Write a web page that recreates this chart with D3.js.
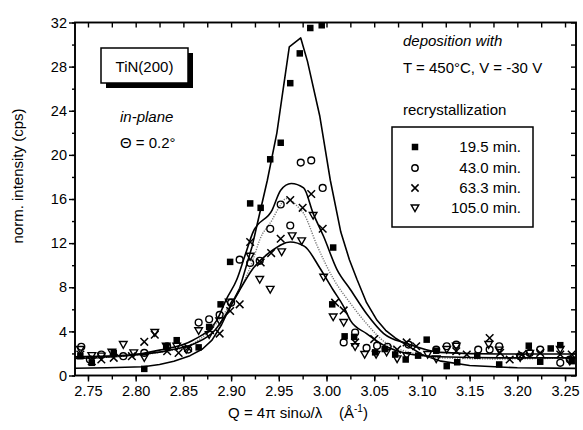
<!DOCTYPE html>
<html>
<head>
<meta charset="utf-8">
<script src="https://cdn.jsdelivr.net/npm/d3@7"></script>
<style>
  html, body { margin: 0; padding: 0; background: #fff; }
  svg { display: block; font-family: "Liberation Sans", Arial, sans-serif; }
</style>
</head>
<body>
<svg id="chart" width="583" height="430"></svg>
<script>
// ---- measured data: TiN(200) in-plane scans after recrystallization ----
// 19.5 min (filled squares)
const q195 = [2.742, 2.754, 2.777, 2.809, 2.832, 2.843, 2.866, 2.877, 2.889, 2.899, 2.920, 2.931, 2.941, 2.952, 2.962, 2.972, 2.983, 2.995, 3.007, 3.006, 3.019, 3.029, 3.051, 3.061, 3.072, 3.083, 3.096, 3.105, 3.115, 3.126, 3.137, 3.158, 3.181, 3.212, 3.224, 3.235, 3.245, 3.257];
const i195 = [1.75, 1.15, 2.05, 0.6, 2.65, 3.2, 2.55, 4.4, 6.45, 10.3, 15.6, 15.2, 19.6, 21.1, 26.5, 29.2, 31.5, 31.75, 11.6, 6.45, 3.55, 3.5, 2.1, 2.4, 1.9, 1.45, 1.8, 3.25, 2.25, 0.85, 1.2, 1.8, 1.0, 2.7, 1.25, 2.45, 2.75, 1.3];
// 43.0 min (open circles)
const q430 = [2.743, 2.752, 2.764, 2.787, 2.809, 2.833, 2.855, 2.866, 2.877, 2.888, 2.900, 2.909, 2.920, 2.930, 2.941, 2.952, 2.962, 2.973, 2.984, 2.996, 3.018, 3.030, 3.042, 3.053, 3.064, 3.086, 3.115, 3.126, 3.136, 3.159, 3.171, 3.181, 3.203, 3.213, 3.224, 3.245, 3.255];
const i430 = [2.6, 1.45, 1.9, 1.75, 2.05, 2.65, 2.35, 4.8, 5.1, 5.5, 6.6, 10.5, 10.2, 10.4, 13.3, 15.5, 13.6, 19.3, 19.5, 17.0, 3.0, 3.9, 2.5, 2.7, 2.6, 2.8, 2.35, 2.65, 2.8, 2.35, 2.35, 2.65, 1.75, 2.05, 2.35, 1.15, 1.45];
// 63.3 min (crosses)
const q633 = [2.742, 2.754, 2.764, 2.777, 2.796, 2.809, 2.820, 2.833, 2.845, 2.855, 2.878, 2.888, 2.899, 2.909, 2.920, 2.931, 2.942, 2.952, 2.962, 2.975, 2.984, 2.996, 3.009, 3.018, 3.030, 3.050, 3.074, 3.084, 3.094, 3.136, 3.147, 3.171, 3.182, 3.192, 3.205, 3.224, 3.245, 3.257];
const i633 = [1.9, 1.3, 1.45, 1.6, 1.75, 3.05, 3.7, 2.2, 2.05, 2.5, 4.1, 3.8, 5.85, 6.45, 12.1, 10.25, 11.1, 12.4, 15.9, 15.2, 16.45, 13.3, 6.6, 5.9, 3.0, 3.3, 2.35, 3.0, 2.65, 2.2, 1.9, 3.4, 2.05, 1.45, 1.9, 2.05, 1.9, 1.9];
// 105.0 min (open down-triangles)
const q1050 = [2.742, 2.754, 2.764, 2.775, 2.787, 2.798, 2.809, 2.820, 2.832, 2.843, 2.853, 2.866, 2.877, 2.888, 2.898, 2.920, 2.930, 2.941, 2.953, 2.964, 2.974, 2.986, 2.997, 3.007, 3.018, 3.030, 3.040, 3.052, 3.063, 3.074, 3.084, 3.106, 3.115, 3.126, 3.136, 3.170, 3.181, 3.203, 3.213, 3.245, 3.255];
const i1050 = [2.35, 1.8, 1.75, 2.1, 2.8, 2.05, 1.6, 3.9, 2.65, 2.65, 2.35, 4.05, 3.7, 4.95, 6.65, 10.8, 8.7, 7.8, 11.2, 12.65, 12.2, 14.5, 8.9, 5.3, 4.8, 2.6, 1.9, 1.9, 2.1, 1.5, 1.8, 1.9, 1.5, 2.35, 2.65, 2.8, 2.3, 1.6, 2.0, 2.35, 1.3];

// ---- fitted profiles ----
const fitQ195 = [2.736, 2.770, 2.808, 2.825, 2.840, 2.857, 2.870, 2.880, 2.890, 2.900, 2.909, 2.922, 2.938, 2.948, 2.953, 2.961, 2.973, 2.980, 2.993, 3.004, 3.015, 3.024, 3.032, 3.042, 3.053, 3.062, 3.072, 3.087, 3.100, 3.120, 3.150, 3.200, 3.261];
const fitI195 = [0.65, 0.7, 0.8, 1.0, 1.3, 1.8, 2.4, 3.2, 4.6, 6.4, 7.9, 11.7, 17.7, 22.0, 25.0, 29.8, 30.6, 28.5, 23.5, 17.7, 13.0, 10.5, 8.7, 6.6, 5.0, 4.1, 3.4, 2.6, 1.9, 1.3, 0.9, 0.7, 0.65];
const fitQ430 = [2.736, 2.791, 2.825, 2.860, 2.885, 2.895, 2.906, 2.915, 2.923, 2.943, 2.952, 2.963, 2.976, 2.986, 2.997, 3.011, 3.025, 3.042, 3.060, 3.084, 3.119, 3.182, 3.261];
const fitI430 = [1.55, 1.8, 2.3, 3.2, 5.0, 6.9, 8.7, 11.0, 13.0, 15.0, 16.8, 17.4, 17.0, 14.7, 12.6, 9.6, 7.8, 5.6, 3.8, 2.9, 2.1, 1.95, 1.95];
const fitQ633 = [2.736, 2.783, 2.825, 2.857, 2.878, 2.895, 2.909, 2.923, 2.930, 2.943, 2.950, 2.958, 2.970, 2.976, 2.990, 3.007, 3.025, 3.042, 3.063, 3.087, 3.119, 3.182, 3.261];
const fitI633 = [1.6, 1.75, 2.1, 2.75, 4.1, 5.9, 7.75, 10.5, 12.3, 14.1, 15.2, 16.05, 15.3, 14.7, 11.8, 8.8, 6.55, 4.7, 2.9, 2.1, 1.6, 1.5, 1.6];
const fitQ1050 = [2.736, 2.794, 2.836, 2.862, 2.883, 2.895, 2.909, 2.923, 2.941, 2.962, 2.977, 2.993, 3.007, 3.018, 3.025, 3.042, 3.063, 3.084, 3.119, 3.182, 3.261];
const fitI1050 = [1.7, 1.85, 2.3, 2.9, 4.1, 5.6, 7.75, 9.7, 11.2, 12.1, 11.7, 9.75, 7.75, 6.25, 5.0, 3.8, 2.6, 2.0, 1.7, 1.6, 1.6];

// ---- axis ticks and legend labels ----
const xTicks = [2.75, 2.80, 2.85, 2.90, 2.95, 3.00, 3.05, 3.10, 3.15, 3.20, 3.25];
const yTicks = [0, 4, 8, 12, 16, 20, 24, 28, 32];
const legendLabels = ["19.5 min.", "43.0 min.", "63.3 min.", "105.0 min."];

const svg = d3.select("#chart");
const L = 75, R = 576, T = 22.5, B = 375.5;
const FONT = "Liberation Sans, Arial, sans-serif";

const x = d3.scaleLinear().domain([2.7364, 3.2615]).range([L, R]);
const y = d3.scaleLinear().domain([0, 32]).range([B, T]);

// clip so curves stay inside the frame
svg.append("defs").append("clipPath").attr("id", "plotClip")
  .append("rect").attr("x", L).attr("y", T).attr("width", R - L).attr("height", B - T);

const plot = svg.append("g").attr("clip-path", "url(#plotClip)");

// fitted curves (the 19.5 min profile is a plain polyline with a sharp apex)
const smooth = d3.line().x(d => x(d[0])).y(d => y(d[1])).curve(d3.curveMonotoneX);
const polyline = d3.line().x(d => x(d[0])).y(d => y(d[1])).curve(d3.curveLinear);
const fits = [
  { q: fitQ195, i: fitI195, gen: polyline, dash: null, color: "#000", w: 1.6 },
  { q: fitQ430, i: fitI430, gen: smooth, dash: null, color: "#000", w: 1.6 },
  { q: fitQ633, i: fitI633, gen: smooth, dash: "1.2,1.3", color: "#777", w: 1.4 },
  { q: fitQ1050, i: fitI1050, gen: smooth, dash: null, color: "#000", w: 1.6 }
];
fits.forEach(f => {
  plot.append("path")
    .datum(d3.zip(f.q, f.i))
    .attr("d", f.gen)
    .attr("fill", "none")
    .attr("stroke", f.color)
    .attr("stroke-width", f.w)
    .attr("stroke-linejoin", "round")
    .attr("stroke-dasharray", f.dash);
});

// marker drawing helpers
function drawSquare(g, cx, cy, s) {
  g.append("rect").attr("x", cx - s / 2).attr("y", cy - s / 2).attr("width", s).attr("height", s).attr("fill", "#000");
}
function drawCircle(g, cx, cy, r) {
  g.append("circle").attr("cx", cx).attr("cy", cy).attr("r", r)
    .attr("fill", "none").attr("stroke", "#000").attr("stroke-width", 1.4);
}
function drawCross(g, cx, cy, h) {
  g.append("path").attr("d", `M${cx - h},${cy - h}L${cx + h},${cy + h}M${cx - h},${cy + h}L${cx + h},${cy - h}`)
    .attr("stroke", "#000").attr("stroke-width", 1.5).attr("fill", "none");
}
function drawTri(g, cx, cy, h) {
  g.append("path").attr("d", `M${cx - h},${cy - h * 0.8}L${cx + h},${cy - h * 0.8}L${cx},${cy + h * 0.95}Z`)
    .attr("stroke", "#000").attr("stroke-width", 1.4).attr("fill", "none");
}

const mk = svg.append("g");
d3.zip(q1050, i1050).forEach(d => drawTri(mk, x(d[0]), y(d[1]), 3.8));
d3.zip(q633, i633).forEach(d => drawCross(mk, x(d[0]), y(d[1]), 3.8));
d3.zip(q430, i430).forEach(d => drawCircle(mk, x(d[0]), y(d[1]), 3.4));
d3.zip(q195, i195).forEach(d => drawSquare(mk, x(d[0]), y(d[1]), 6.5));

// ---- axes ----
const tickFont = 14.5;
const xMinor = d3.range(2.75, 3.2501, 0.025);
const yMinor = d3.range(0, 32.01, 2);

svg.append("g").attr("transform", `translate(0,${B})`)
  .call(d3.axisBottom(x).tickValues(xMinor).tickSize(4).tickFormat(""))
  .call(g => g.select(".domain").remove());
svg.append("g").attr("transform", `translate(0,${B})`)
  .call(d3.axisBottom(x).tickValues(xTicks).tickSize(6).tickPadding(4).tickFormat(d3.format(".2f")))
  .call(g => g.select(".domain").remove())
  .call(g => g.selectAll("text").attr("font-size", tickFont).attr("font-family", FONT).attr("fill", "#000"));

svg.append("g").attr("transform", `translate(${L},0)`)
  .call(d3.axisLeft(y).tickValues(yMinor).tickSize(3).tickFormat(""))
  .call(g => g.select(".domain").remove());
svg.append("g").attr("transform", `translate(${L},0)`)
  .call(d3.axisLeft(y).tickValues(yTicks).tickSize(6).tickPadding(2).tickFormat(d3.format("d")))
  .call(g => g.select(".domain").remove())
  .call(g => g.selectAll("text").attr("font-size", tickFont).attr("font-family", FONT).attr("fill", "#000"));

// inward ticks on the top and right sides
svg.append("g").attr("transform", `translate(0,${T})`)
  .call(d3.axisTop(x).tickValues(xMinor).tickSize(-5).tickFormat(""))
  .call(g => g.select(".domain").remove());
svg.append("g").attr("transform", `translate(${R},0)`)
  .call(d3.axisRight(y).tickValues(yMinor).tickSize(-5).tickFormat(""))
  .call(g => g.select(".domain").remove());

svg.selectAll(".tick line").attr("stroke", "#000").attr("stroke-width", 1.4);

// frame
svg.append("rect").attr("x", L).attr("y", T).attr("width", R - L).attr("height", B - T)
  .attr("fill", "none").attr("stroke", "#000").attr("stroke-width", 1.9);

// axis titles
const xt = svg.append("text").attr("x", 298).attr("y", 418).attr("text-anchor", "middle")
  .attr("font-size", 15).attr("fill", "#000").style("white-space", "pre");
xt.append("tspan").text("Q = 4\u03C0 sin\u03C9/\u03BB    (\u00C5");
xt.append("tspan").attr("font-size", 10).attr("dy", -6).text("-1");
xt.append("tspan").attr("dy", 6).text(")");

svg.append("text").attr("transform", "translate(23,176) rotate(-90)")
  .attr("text-anchor", "middle").attr("font-size", 15).attr("fill", "#000")
  .text("norm. intensity (cps)");

// sample label box with drop shadow
svg.append("rect").attr("x", 106).attr("y", 53).attr("width", 87).attr("height", 35).attr("fill", "#000");
svg.append("rect").attr("x", 101).attr("y", 48).attr("width", 87).attr("height", 35)
  .attr("fill", "#fff").attr("stroke", "#000").attr("stroke-width", 1.5);
svg.append("text").attr("x", 144.5).attr("y", 71.5).attr("text-anchor", "middle")
  .attr("font-size", 15).attr("fill", "#000").text("TiN(200)");

svg.append("text").attr("x", 120).attr("y", 122).attr("font-size", 15)
  .attr("font-style", "italic").attr("fill", "#000").text("in-plane");
svg.append("text").attr("x", 120).attr("y", 148).attr("font-size", 15)
  .attr("fill", "#000").text("\u0398 = 0.2\u00B0");

svg.append("text").attr("x", 403).attr("y", 46).attr("font-size", 15)
  .attr("font-style", "italic").attr("fill", "#000").text("deposition with");
svg.append("text").attr("x", 403).attr("y", 73).attr("font-size", 15)
  .attr("fill", "#000").text("T = 450\u00B0C, V = -30 V");
svg.append("text").attr("x", 403).attr("y", 115).attr("font-size", 15)
  .attr("fill", "#000").text("recrystallization");

// legend
const lg = svg.append("g");
lg.append("rect").attr("x", 392).attr("y", 127).attr("width", 141).attr("height", 100)
  .attr("fill", "#fff").attr("stroke", "#000").attr("stroke-width", 1.5);
const rowsY = [147, 168, 188, 208];
drawSquare(lg, 415, rowsY[0], 6.5);
drawCircle(lg, 415, rowsY[1], 3.2);
drawCross(lg, 415, rowsY[2], 3.6);
drawTri(lg, 415, rowsY[3], 3.8);
legendLabels.forEach((t, k) => {
  lg.append("text").attr("x", 521).attr("y", rowsY[k] + 5).attr("text-anchor", "end")
    .attr("font-size", 15).attr("fill", "#000").text(t);
});
</script>
</body>
</html>
